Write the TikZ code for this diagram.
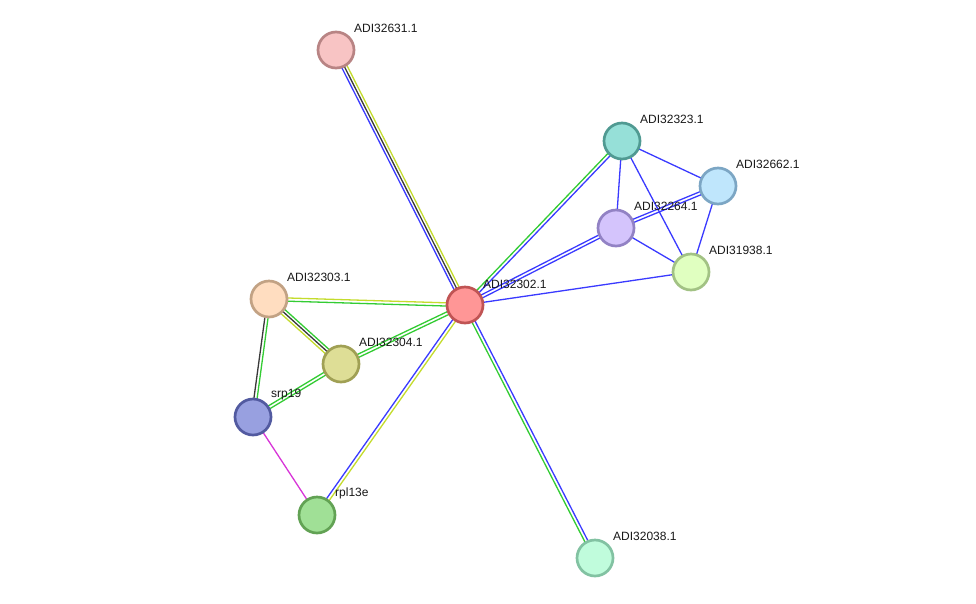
\documentclass[tikz,border=0pt]{standalone}
\usepackage{fontspec}
\setmainfont{Liberation Sans}
\usetikzlibrary{calc,backgrounds}
\definecolor{eblue}{HTML}{3A3AFF}
\definecolor{egreen}{HTML}{33CC33}
\definecolor{eyel}{HTML}{C4DC2C}
\definecolor{eblk}{HTML}{3A3A3A}
\definecolor{emag}{HTML}{D835D8}
\definecolor{fc}{HTML}{FF9696}\definecolor{dc}{HTML}{C05454}
\definecolor{fa}{HTML}{F8C4C4}\definecolor{da}{HTML}{B88484}
\definecolor{fb}{HTML}{96E0D8}\definecolor{db}{HTML}{509A92}
\definecolor{fd}{HTML}{BFE6FC}\definecolor{dd}{HTML}{7CA6C4}
\definecolor{fe}{HTML}{D4C4FC}\definecolor{de}{HTML}{9282C4}
\definecolor{ff}{HTML}{E0FFC0}\definecolor{df}{HTML}{A2C284}
\definecolor{fg}{HTML}{FFDDC0}\definecolor{dg}{HTML}{C2A284}
\definecolor{fh}{HTML}{DEDE96}\definecolor{dh}{HTML}{A0A054}
\definecolor{fi}{HTML}{98A0E0}\definecolor{di}{HTML}{525AA0}
\definecolor{fj}{HTML}{A0E096}\definecolor{dj}{HTML}{62A254}
\definecolor{fk}{HTML}{C0FCDC}\definecolor{dk}{HTML}{82C2A2}
\newcommand\ed[4]{\draw[edgeln,#4] ($(#1.center)!#3!90:(#2.center)$) -- ($(#2.center)!#3!-90:(#1.center)$);}
\tikzset{
  prot/.style n args={2}{circle, minimum size=36pt, inner sep=0pt, line width=2.7pt, fill=#1, draw=#2},
  lbl/.style={anchor=west, inner sep=0pt, font=\fontsize{12pt}{14pt}\selectfont, text=black!90},
  edgeln/.style={line width=1.3pt}
}
\begin{document}
\begin{tikzpicture}[x=1pt,y=-1pt]
\useasboundingbox (0,0) rectangle (976,603);
% nodes
\node[prot={fc}{dc}] (c) at (465,305) {};
\node[prot={fa}{da}] (n631) at (336,50) {};
\node[prot={fb}{db}] (n323) at (622,141) {};
\node[prot={fd}{dd}] (n662) at (718,186) {};
\node[prot={fe}{de}] (n264) at (616,228) {};
\node[prot={ff}{df}] (n938) at (691,272) {};
\node[prot={fg}{dg}] (n303) at (269,299) {};
\node[prot={fh}{dh}] (n304) at (341,364) {};
\node[prot={fi}{di}] (srp) at (253,417) {};
\node[prot={fj}{dj}] (rpl) at (317,515) {};
\node[prot={fk}{dk}] (n038) at (595,558) {};
% labels
\node[lbl] (lc) at ($(c)+(18,-21)$) {ADI32302.1};
\node[lbl] (l631) at ($(n631)+(18,-22)$) {ADI32631.1};
\node[lbl] (l323) at ($(n323)+(18,-22)$) {ADI32323.1};
\node[lbl] (l662) at ($(n662)+(18,-22)$) {ADI32662.1};
\node[lbl] (l264) at ($(n264)+(18,-22)$) {ADI32264.1};
\node[lbl] (l938) at ($(n938)+(18,-22)$) {ADI31938.1};
\node[lbl] (l303) at ($(n303)+(18,-22)$) {ADI32303.1};
\node[lbl] (l304) at ($(n304)+(18,-22)$) {ADI32304.1};
\node[lbl] (lsrp) at ($(srp)+(18,-22)$) {srp19};
\node[lbl] (lrpl) at ($(rpl)+(18,-22)$) {rpl13e};
\node[lbl] (l038) at ($(n038)+(18,-22)$) {ADI32038.1};
\begin{pgfonlayer}{background}
\fill[white] (0,0) rectangle (976,603);
% center edges
\ed{c}{n631}{2.8pt}{eblue}
\ed{c}{n631}{0pt}{eblk}
\ed{c}{n631}{-2.8pt}{eyel}
\ed{c}{n323}{1.6pt}{egreen}
\ed{c}{n323}{-1.6pt}{eblue}
\ed{c}{n264}{1.6pt}{eblue}
\ed{c}{n264}{-1.6pt}{eblue}
\ed{c}{n938}{0pt}{eblue}
\ed{c}{n303}{1.6pt}{egreen}
\ed{c}{n303}{-1.6pt}{eyel}
\ed{c}{n304}{1.6pt}{egreen}
\ed{c}{n304}{-1.6pt}{egreen}
\ed{c}{rpl}{1.6pt}{eyel}
\ed{c}{rpl}{-1.6pt}{eblue}
\ed{c}{n038}{1.6pt}{eblue}
\ed{c}{n038}{-1.6pt}{egreen}
% right cluster
\ed{n323}{n662}{0pt}{eblue}
\ed{n323}{n264}{0pt}{eblue}
\ed{n323}{n938}{0pt}{eblue}
\ed{n662}{n264}{1.6pt}{eblue}
\ed{n662}{n264}{-1.6pt}{eblue}
\ed{n662}{n938}{0pt}{eblue}
\ed{n264}{n938}{0pt}{eblue}
% left cluster
\ed{n303}{n304}{2.8pt}{egreen}
\ed{n303}{n304}{0pt}{eblk}
\ed{n303}{n304}{-2.8pt}{eyel}
\ed{n303}{srp}{1.6pt}{egreen}
\ed{n303}{srp}{-1.6pt}{eblk}
\ed{n304}{srp}{1.6pt}{egreen}
\ed{n304}{srp}{-1.6pt}{egreen}
\ed{srp}{rpl}{0pt}{emag}
\end{pgfonlayer}
\end{tikzpicture}
\end{document}
